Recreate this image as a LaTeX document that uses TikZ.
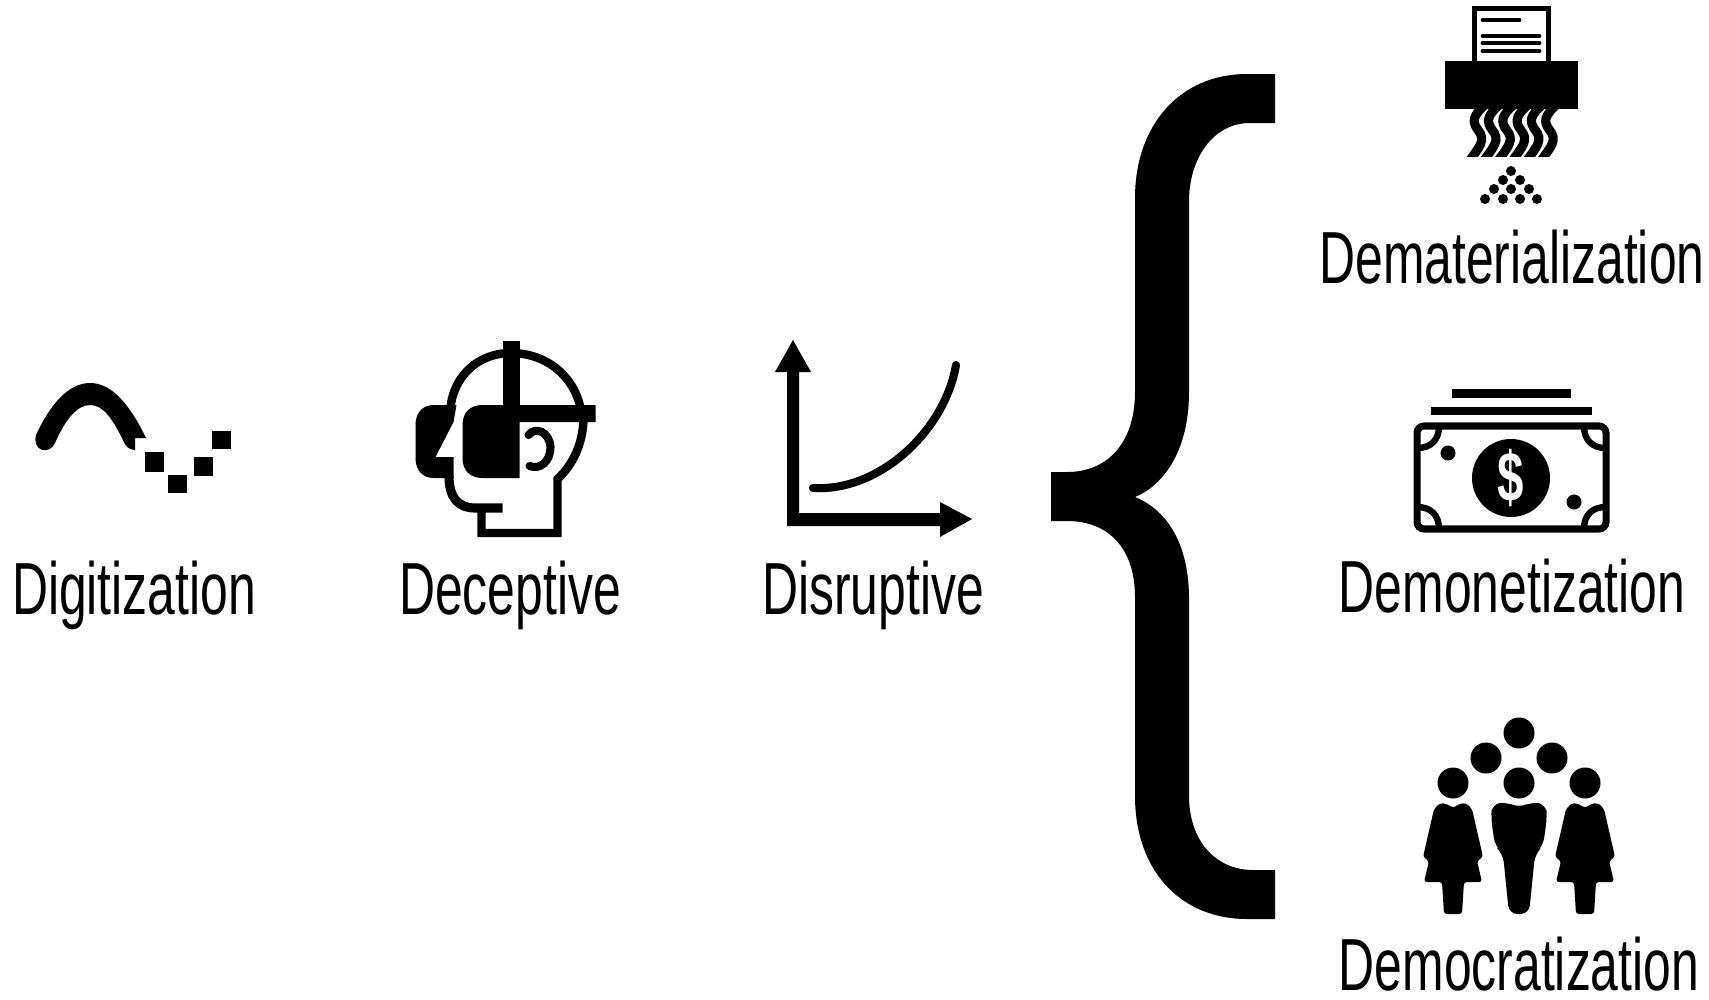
\documentclass[tikz,border=0pt]{standalone}
\usepackage{fontspec}
\setmainfont[FakeStretch=0.675]{Liberation Sans}
\tikzset{
  caption/.style={inner sep=0pt, font=\fontsize{21}{24}\selectfont},
  stripe/.style={line width=2.6pt, line cap=butt},
  dot/.style={fill=black, draw=none},
  thin stroke/.style={line width=2pt, line cap=round},
}
\begin{document}
\begin{tikzpicture}[x=0.01cm, y=-0.01cm]
\useasboundingbox (0,0) rectangle (1709,1000);

% Place the captions
\node[caption] (digitization) at (134,595) {Digitization};
\node[caption] (deceptive) at (510,595) {Deceptive};
\node[caption] (disruptive) at (873,595) {Disruptive};
\node[caption] (demat) at (1512,257) {Dematerialization};
\node[caption] (demon) at (1512,586) {Demonetization};
\node[caption] (democ) at (1519,964) {Democratization};

% Sine wave going digital
\fill (36,435) .. controls (50,405) and (68,383) .. (90,383)
  .. controls (112,383) and (130,405) .. (146,438) -- (135,438) -- (135,450)
  .. controls (128,450) and (125,445) .. (123,440) .. controls (112,418) and (103,405) .. (90,405)
  .. controls (77,405) and (65,420) .. (55,443) .. controls (50,455) and (32,452) .. (36,435) -- cycle;
\fill (145,452) rectangle (164,472);
\fill (168,475) rectangle (187,493);
\fill (194,457) rectangle (213,476);
\fill (212,431) rectangle (231,449);

% Head with goggles
\begin{scope}[xshift=-0.025cm]
\fill (505,341) rectangle (522,410);
\fill (505,405) -- (598,405) -- (598,422) -- (522,422) -- (522,478) -- (485,478)
  .. controls (472,478) and (465,470) .. (465,458) -- (465,425) .. controls (465,413) and (472,405) .. (485,405) -- cycle;
\fill (459,405) -- (456,422) -- (438,457) -- (456,457) -- (456,478) -- (436,478)
  .. controls (425,478) and (418,470) .. (418,458) -- (418,425) .. controls (418,413) and (425,405) .. (436,405) -- cycle;
\draw[line width=2.4pt] (453,408) .. controls (456,375) and (482,353) .. (513,353)
  .. controls (548,353) and (576,375) .. (583,408);
\draw[line width=2.4pt] (586,420) .. controls (585,445) and (575,465) .. (560,479) -- (560,533) -- (484,533) -- (484,508);
\draw[line width=2.6pt] (451.5,476) .. controls (451.5,497) and (460,508) .. (478,508) -- (505,508);
\draw[thin stroke, line width=2.3pt] (531,435) .. controls (538,426) and (552,432) .. (553,447)
  .. controls (553,462) and (542,470) .. (532,466);
\end{scope}

% Axes and growth curve
\fill (787,526) -- (787,372) -- (775,372) -- (793,340) -- (811,372) -- (799,372) -- (799,513)
  -- (940,513) -- (940,502) -- (972,519) -- (940,537) -- (940,526) -- cycle;
\draw[thin stroke, line width=2.3pt] (813,488) .. controls (880,492) and (945,430) .. (956,365);

% The brace
\fill (1275,74) -- (1275,123) -- (1250,123) .. controls (1212,123) and (1189,160) .. (1189,201)
  -- (1189,392) .. controls (1189,455) and (1160,487) .. (1135,497)
  .. controls (1160,507) and (1189,535) .. (1189,599) -- (1189,796)
  .. controls (1189,840) and (1215,870) .. (1253,870) -- (1275,870) -- (1275,919) -- (1247,919)
  .. controls (1180,919) and (1135,870) .. (1135,796) -- (1135,597)
  .. controls (1135,550) and (1110,521) .. (1067,521) -- (1051,521) -- (1051,472) -- (1067,472)
  .. controls (1110,472) and (1135,440) .. (1135,392) -- (1135,198)
  .. controls (1135,125) and (1180,74) .. (1247,74) -- cycle;

% Shredder
\draw[line width=1.5pt] (1474.5,61) -- (1474.5,8.5) -- (1548.5,8.5) -- (1548.5,61);
\fill (1445,61) rectangle (1578,109);
\draw[line width=1.4pt, line cap=round] (1483,20) -- (1519,20);
\foreach \y in {36,43,51} {
  \draw[line width=1.4pt, line cap=round] (1483,\y) -- (1539,\y);
}
\begin{scope}
\clip (1460,105) rectangle (1570,156);
\foreach \i in {0,...,5} {
  \draw[stripe, xshift=\i*14.3*0.01cm] (1486,104) .. controls (1472,116) and (1472,122) .. (1478,130)
    .. controls (1486,140) and (1480,146) .. (1470,160);
}
\end{scope}
\foreach \x/\y in {1511/171,1503/180,1520/180,1494/189,1511/189,1529/189,1485/199,1503/199,1520/199,1537/199} {
  \fill[dot] (\x,\y) circle[radius=5];
}

% Banknote stack
\fill (1452,389) rectangle (1571,398);
\fill (1431,407) rectangle (1592,415);
\draw[line width=2pt, rounded corners=2pt] (1417,426) rectangle (1606,529);
\draw[line width=1.8pt] (1439,426) .. controls (1439,440) and (1431,448) .. (1417,448);
\draw[line width=1.8pt] (1584,426) .. controls (1584,440) and (1592,448) .. (1606,448);
\draw[line width=1.8pt] (1439,529) .. controls (1439,515) and (1431,507) .. (1417,507);
\draw[line width=1.8pt] (1584,529) .. controls (1584,515) and (1592,507) .. (1606,507);
\fill (1511,478) circle[radius=39];
\fill (1448,453) circle[radius=7.5];
\fill (1574,502) circle[radius=7.5];
\node[text=white, inner sep=0pt, font=\bfseries\fontsize{20}{22}\selectfont] (dollar) at (1511,478) {\$};

% Crowd
\foreach \x/\y in {1519/733,1486/758,1552/758,1453/783,1519/783,1585/783} {
  \fill[dot] (\x,\y) circle[radius=15.5];
}
\foreach \x in {1453,1585} {
  \fill[rounded corners=0.8pt, xshift=\x*0.01cm] (0,808) -- (6,804) -- (13,803) -- (19,809) -- (30,857) -- (24,861) -- (29,882)
    -- (11,882) -- (9,914) -- (-9,914) -- (-11,882) -- (-29,882) -- (-24,861) -- (-30,857) -- (-19,809) -- (-13,803) -- (-6,804) -- cycle;
}
\fill[rounded corners=2.4pt] (1519,808) -- (1531,802) -- (1546,804) -- (1547,818) -- (1543,846) -- (1535,854) -- (1529,914)
  -- (1509,914) -- (1503,854) -- (1495,846) -- (1491,818) -- (1492,804) -- (1507,802) -- cycle;

\end{tikzpicture}
\end{document}
